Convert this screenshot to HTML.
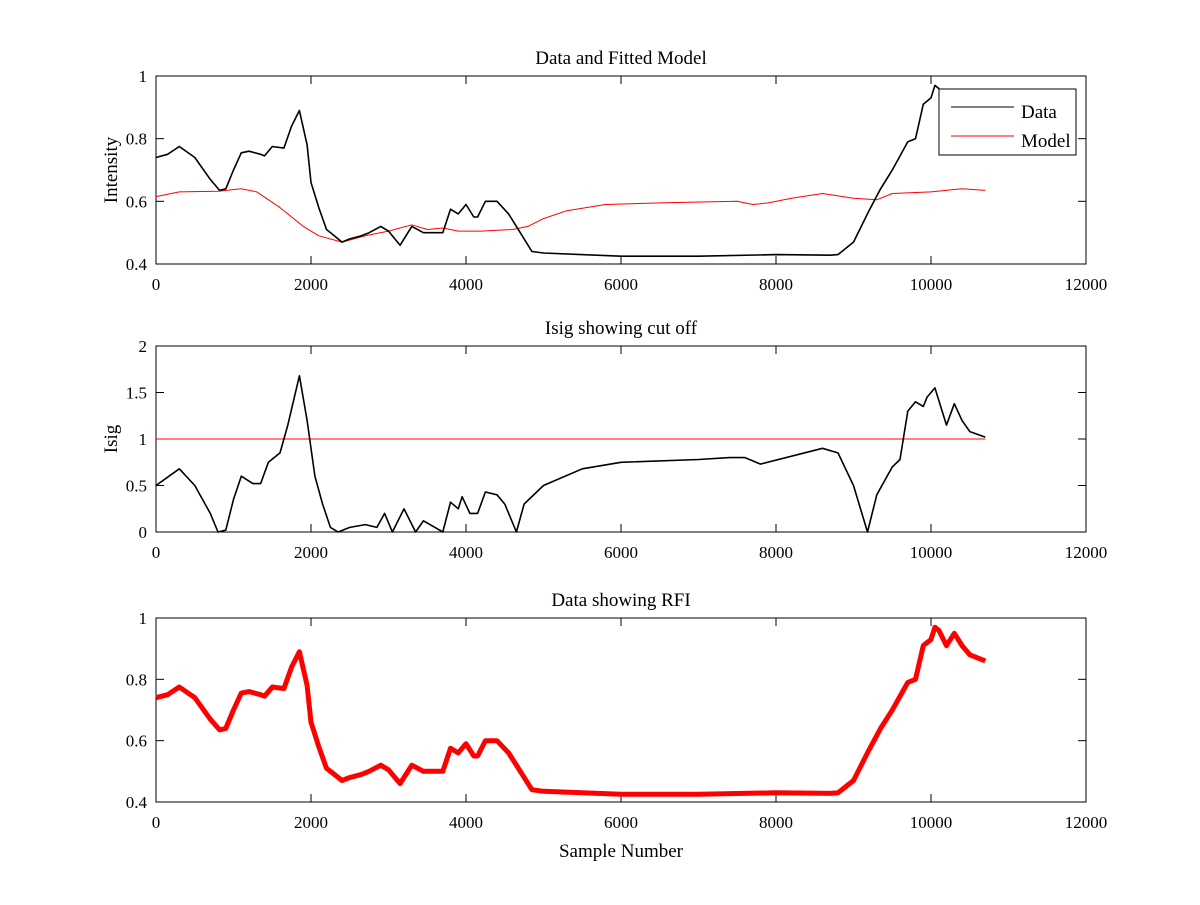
<!DOCTYPE html>
<html><head><meta charset="utf-8"><style>
html,body{margin:0;padding:0;background:#fff}
svg text{font-family:"Liberation Serif",serif;font-size:17px;fill:#000}
svg text.big{font-size:19px}
</style></head><body>
<svg id="chart" width="1200" height="900" xmlns="http://www.w3.org/2000/svg"></svg>
<script>
// Data (sample number, value)
const xTicks = [0, 2000, 4000, 6000, 8000, 10000, 12000];
const dataX = [0,150,300,500,700,820,900,1000,1100,1200,1350,1400,1500,1650,1750,1850,1950,2000,2100,2200,2300,2400,2500,2650,2750,2900,3000,3150,3300,3450,3600,3700,3800,3900,4000,4100,4150,4250,4400,4550,4700,4850,5000,6000,7000,8000,8700,8800,9000,9200,9350,9500,9700,9800,9900,10000,10050,10100,10200,10300,10400,10500,10700];
const dataY = [0.74,0.75,0.775,0.74,0.67,0.635,0.64,0.70,0.755,0.76,0.75,0.745,0.775,0.77,0.84,0.89,0.78,0.66,0.58,0.51,0.49,0.47,0.48,0.49,0.50,0.52,0.505,0.46,0.52,0.50,0.50,0.50,0.575,0.56,0.59,0.55,0.55,0.60,0.60,0.56,0.50,0.44,0.435,0.425,0.425,0.43,0.428,0.43,0.47,0.57,0.64,0.70,0.79,0.80,0.91,0.93,0.97,0.96,0.91,0.95,0.91,0.88,0.86];
const modelX = [0,300,800,1100,1300,1600,1900,2100,2400,2700,3000,3300,3500,3700,3900,4200,4600,4800,5000,5300,5800,6500,7500,7700,7900,8200,8600,9000,9300,9500,10000,10400,10700];
const modelY = [0.615,0.63,0.632,0.64,0.63,0.58,0.52,0.49,0.47,0.49,0.505,0.525,0.51,0.515,0.505,0.505,0.51,0.52,0.545,0.57,0.59,0.595,0.60,0.59,0.595,0.61,0.625,0.61,0.605,0.625,0.63,0.64,0.635];
const isigX = [0,300,500,700,800,900,1000,1100,1250,1350,1450,1600,1700,1850,1950,2050,2150,2250,2350,2500,2700,2850,2950,3050,3200,3350,3450,3600,3700,3800,3900,3950,4050,4150,4250,4400,4500,4650,4750,5000,5500,6000,7000,7400,7600,7800,8600,8800,9000,9180,9300,9500,9600,9700,9800,9900,9950,10050,10200,10300,10400,10500,10700];
const isigY = [0.5,0.68,0.5,0.2,0.0,0.02,0.35,0.6,0.52,0.52,0.75,0.85,1.15,1.68,1.2,0.6,0.3,0.05,0.0,0.05,0.08,0.05,0.2,0.0,0.25,0.0,0.12,0.05,0.0,0.32,0.25,0.38,0.2,0.2,0.43,0.4,0.3,0.0,0.3,0.5,0.68,0.75,0.78,0.8,0.8,0.73,0.9,0.85,0.5,0.0,0.4,0.7,0.78,1.3,1.4,1.35,1.45,1.55,1.15,1.38,1.2,1.08,1.02];
const cutoff = 1;
const ticks1 = [0.4,0.6,0.8,1];
const ticks2 = [0,0.5,1,1.5,2];
const ticks3 = [0.4,0.6,0.8,1];

const svg = document.getElementById('chart');
const NS = 'http://www.w3.org/2000/svg';
function mk(tag, attrs, parent){const e=document.createElementNS(NS,tag);for(const k in attrs)e.setAttribute(k,attrs[k]);(parent||svg).appendChild(e);return e;}
const X0=156,X1=1086,XMAX=12000;
const sx = v => X0 + (X1-X0)*v/XMAX;

function panel(name, top, bot, ymin, ymax, yt, title, ylabel, xlabel){
  const sy = v => bot - (bot-top)*(v-ymin)/(ymax-ymin);
  const g = mk('g',{});
  
  
  const r = mk('rect',{x:X0,y:top,width:X1-X0,height:bot-top,fill:'none',stroke:'#000','stroke-width':1},g);
  
  
  xTicks.forEach(t=>{
    const x=sx(t);
    mk('line',{x1:x,x2:x,y1:bot,y2:bot-8,stroke:'#000'},g);
    mk('line',{x1:x,x2:x,y1:top,y2:top+8,stroke:'#000'},g);
    const tx=mk('text',{x:x,y:bot+26,'text-anchor':'middle'},g);tx.textContent=t;
    
    
  });
  yt.forEach(t=>{
    const y=sy(t);
    mk('line',{x1:X0,x2:X0+8,y1:y,y2:y,stroke:'#000'},g);
    mk('line',{x1:X1,x2:X1-8,y1:y,y2:y,stroke:'#000'},g);
    const tx=mk('text',{x:147,y:y+6,'text-anchor':'end'},g);tx.textContent=t;
    
    
  });
  const tt=mk('text',{x:621,y:top-12,'text-anchor':'middle','class':'big'},g);tt.textContent=title;
  
  
  if(ylabel){const yl=mk('text',{x:0,y:0,'text-anchor':'middle','class':'big',transform:`translate(117,${(top+bot)/2}) rotate(-90)`},g);yl.textContent=ylabel;
    
    }
  if(xlabel){const xl=mk('text',{x:621,y:bot+55,'text-anchor':'middle','class':'big'},g);xl.textContent=xlabel;
    
    }
  return {g,sy};
}
function line(p, xs, ys, color, w, name){
  const pts = xs.map((x,i)=>sx(x).toFixed(1)+','+p.sy(ys[i]).toFixed(1)).join(' ');
  const l = mk('polyline',{points:pts,fill:'none',stroke:color,'stroke-width':w,'stroke-linejoin':'round'},p.g);
  
  
}
const p1 = panel('data-model-panel',76,264,0.4,1,ticks1,'Data and Fitted Model','Intensity',null);
line(p1, modelX, modelY, '#f00', 1, 'model-line');
line(p1, dataX, dataY.map(v=>Math.min(v,0.97)), '#000', 1.6, 'data-line');
// legend
const lg = mk('g',{},p1.g);


mk('rect',{x:939,y:89,width:137,height:66,fill:'#fff',stroke:'#000'},lg);
mk('line',{x1:951,x2:1014,y1:107,y2:107,stroke:'#000'},lg);
mk('line',{x1:951,x2:1014,y1:136,y2:136,stroke:'#f00'},lg);
const l1=mk('text',{x:1021,y:118,'class':'big'},lg);l1.textContent='Data';


const l2=mk('text',{x:1021,y:147,'class':'big'},lg);l2.textContent='Model';



const p2 = panel('isig-panel',346,532,0,2,ticks2,'Isig showing cut off','Isig',null);
line(p2, [0,10700], [cutoff,cutoff], '#f00', 1, 'cutoff-line');
line(p2, isigX, isigY, '#000', 1.6, 'isig-line');

const p3 = panel('rfi-panel',618,802,0.4,1,ticks3,'Data showing RFI',null,'Sample Number');
line(p3, dataX, dataY, '#f00', 5, 'rfi-data-line');
</script>
</body></html>
